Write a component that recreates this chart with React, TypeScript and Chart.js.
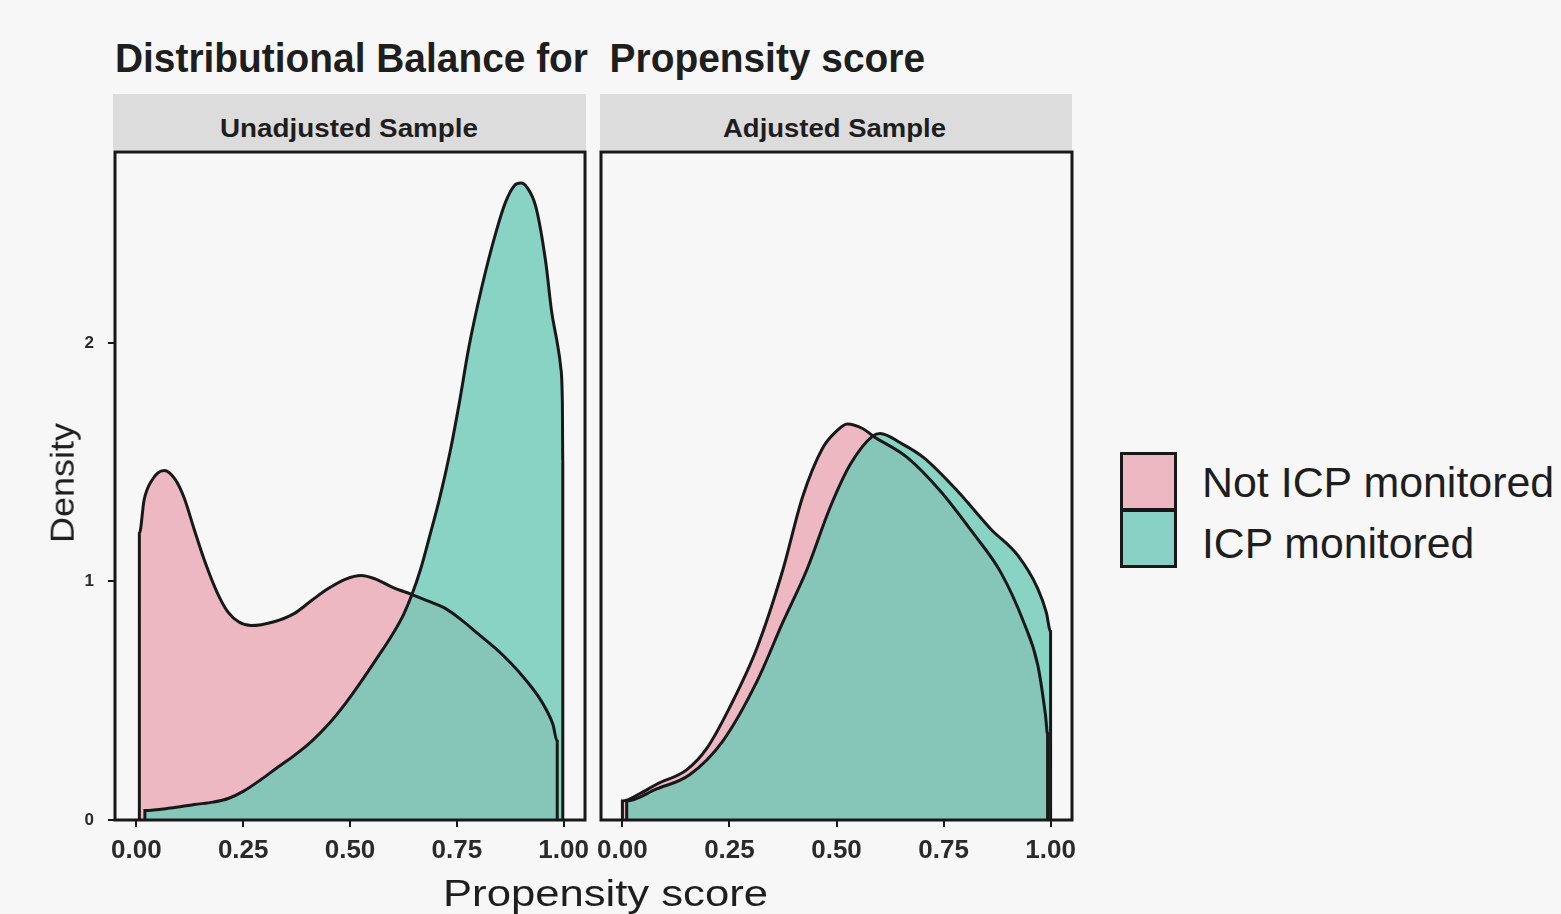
import React, { useEffect, useRef } from "react";
import { Chart, registerables } from "chart.js";

Chart.register(...registerables);

// ---------- data ----------
const panelNames = ["Unadjusted Sample", "Adjusted Sample"];
const groupNames = ["Not ICP monitored", "ICP monitored"];
const xTicks = [0, 0.25, 0.5, 0.75, 1];
const yTicks = [0, 1, 2];

// [propensity score, density]
const unadjustedNotIcp = [
  [0.007, 0], [0.007, 1.2], [0.018, 1.34], [0.035, 1.42], [0.065, 1.465], [0.09, 1.43],
  [0.112, 1.35], [0.135, 1.22], [0.159, 1.09], [0.19, 0.95], [0.215, 0.87], [0.24, 0.83],
  [0.269, 0.815], [0.32, 0.83], [0.369, 0.865], [0.41, 0.92], [0.449, 0.97], [0.49, 1.01],
  [0.526, 1.025], [0.56, 1.01], [0.6, 0.975], [0.645, 0.945], [0.68, 0.92], [0.72, 0.89],
  [0.76, 0.84], [0.8, 0.78], [0.84, 0.72], [0.875, 0.66], [0.91, 0.59], [0.94, 0.52],
  [0.96, 0.46], [0.975, 0.4], [0.985, 0.33], [0.985, 0],
];
const unadjustedIcp = [
  [0.02, 0], [0.02, 0.04], [0.08, 0.05], [0.136, 0.065], [0.18, 0.075], [0.215, 0.09],
  [0.25, 0.12], [0.292, 0.17], [0.33, 0.22], [0.369, 0.27], [0.41, 0.33], [0.449, 0.4],
  [0.49, 0.49], [0.526, 0.58], [0.56, 0.67], [0.6, 0.78], [0.625, 0.86], [0.645, 0.945],
  [0.665, 1.05], [0.685, 1.18], [0.71, 1.35], [0.735, 1.55], [0.755, 1.74], [0.778, 1.98],
  [0.808, 2.23], [0.841, 2.46], [0.864, 2.59], [0.885, 2.66], [0.9, 2.67], [0.915, 2.65],
  [0.935, 2.57], [0.958, 2.34], [0.972, 2.13], [0.985, 2.0], [0.993, 1.9], [0.997, 1.75],
  [0.998, 1.5], [0.998, 0],
];
const adjustedNotIcp = [
  [0.0, 0], [0.0, 0.08], [0.04, 0.11], [0.08, 0.15], [0.15, 0.21], [0.197, 0.3], [0.25, 0.47],
  [0.314, 0.72], [0.375, 1.05], [0.42, 1.35], [0.468, 1.56], [0.5, 1.63], [0.525, 1.66],
  [0.562, 1.64], [0.585, 1.61], [0.665, 1.52], [0.742, 1.38], [0.82, 1.2], [0.883, 1.04],
  [0.937, 0.83], [0.97, 0.65], [0.988, 0.44], [0.993, 0.36], [0.993, 0],
];
const adjustedIcp = [
  [0.01, 0], [0.01, 0.08], [0.08, 0.13], [0.157, 0.19], [0.234, 0.33], [0.314, 0.58],
  [0.375, 0.83], [0.431, 1.05], [0.485, 1.31], [0.532, 1.49], [0.585, 1.61], [0.602, 1.62],
  [0.65, 1.58], [0.703, 1.52], [0.782, 1.38], [0.86, 1.22], [0.923, 1.11], [0.97, 0.97],
  [0.99, 0.87], [1.0, 0.79], [1.0, 0],
];

// ---------- style ----------
const FONT = '"Liberation Sans", Arial, Helvetica, sans-serif';
const BG = "#f7f7f7";
const PINK = "#EDB8C2";
const TEAL = "rgba(107,201,183,0.8)";
const TEAL_KEY = "#87D0C3";
const LINE = "#181818";
const TEXT = "#1e1e1e";

Chart.defaults.font.family = FONT;

const toPts = (a: number[][]) => a.map(([x, y]) => ({ x, y }));

const boxPlugin = {
  id: "panelBox",
  afterDatasetsDraw(chart: any) {
    const { ctx, chartArea } = chart;
    const { left, top, right, bottom } = chartArea;
    ctx.save();
    ctx.strokeStyle = LINE;
    ctx.lineWidth = 3;
    ctx.strokeRect(left, top, right - left, bottom - top);
    ctx.restore();
  },
};

function zeroPad(s: any) {
  s.paddingTop = 0;
  s.paddingBottom = 0;
  s.paddingLeft = 0;
  s.paddingRight = 0;
}

function DensityPanel(props: {
  left: number; top: number; width: number; height: number;
  pad: { top: number; right: number; bottom: number; left: number };
  showY: boolean; pink: number[][]; teal: number[][];
}) {
  const ref = useRef<HTMLCanvasElement>(null);
  useEffect(() => {
    const tickGrid = { drawOnChartArea: false, drawTicks: true, tickLength: 7, color: LINE, lineWidth: 2 };
    const chart = new Chart(ref.current as HTMLCanvasElement, {
      type: "line",
      data: {
        datasets: [
          {
            label: groupNames[0], data: toPts(props.pink), backgroundColor: PINK, borderColor: LINE,
            borderWidth: 3, fill: "origin", pointRadius: 0, cubicInterpolationMode: "monotone", order: 2,
          },
          {
            label: groupNames[1], data: toPts(props.teal), backgroundColor: TEAL, borderColor: LINE,
            borderWidth: 3, fill: "origin", pointRadius: 0, cubicInterpolationMode: "monotone", order: 1,
          },
        ],
      } as any,
      options: {
        animation: false,
        responsive: false,
        events: [],
        layout: { padding: props.pad },
        plugins: {
          legend: { display: false },
          tooltip: { enabled: false },
          filler: { drawTime: "beforeDatasetsDraw" },
        },
        scales: {
          x: {
            type: "linear", min: -0.05, max: 1.05,
            afterBuildTicks: (s: any) => { s.ticks = xTicks.map((v) => ({ value: v })); },
            afterFit: (s: any) => { s.height = 60; zeroPad(s); },
            ticks: {
              callback: (v: any) => Number(v).toFixed(2), autoSkip: false, maxRotation: 0,
              font: { size: 26, family: FONT, weight: "bold" }, color: "#2a2a2a", padding: 8,
            },
            grid: tickGrid, border: { display: false },
          },
          y: {
            display: props.showY, min: 0, max: 2.8,
            afterBuildTicks: (s: any) => { s.ticks = yTicks.map((v) => ({ value: v })); },
            afterFit: (s: any) => { s.width = props.showY ? 85 : 0; zeroPad(s); },
            ticks: { font: { size: 17, family: FONT, weight: "bold" }, color: "#2a2a2a", padding: 14 },
            grid: tickGrid, border: { display: false },
          },
        },
      } as any,
      plugins: [boxPlugin],
    });
    return () => chart.destroy();
  }, []);
  return (
    <canvas
      ref={ref}
      width={props.width}
      height={props.height}
      style={{ position: "absolute", left: props.left, top: props.top, width: props.width, height: props.height, display: "block" }}
    />
  );
}

let measureCtx: CanvasRenderingContext2D | null = null;
function measure(text: string, font: string) {
  if (!measureCtx) measureCtx = document.createElement("canvas").getContext("2d");
  measureCtx!.font = font;
  return measureCtx!.measureText(text).width;
}

function FitText(props: {
  text: string; x: number; baseline: number; size: number; weight?: string;
  width: number; align?: "left" | "center";
}) {
  const weight = props.weight || "normal";
  const w = measure(props.text, `${weight} ${props.size}px ${FONT}`);
  const k = props.width / w;
  const left = props.align === "center" ? props.x - props.width / 2 : props.x;
  return (
    <div
      style={{
        position: "absolute", left, top: props.baseline - 0.8465 * props.size,
        fontFamily: FONT, fontSize: props.size, fontWeight: weight as any, lineHeight: `${props.size}px`,
        whiteSpace: "pre", color: TEXT, transform: `scaleX(${k})`, transformOrigin: "0 0",
      }}
    >
      {props.text}
    </div>
  );
}

function RotatedText(props: { text: string; cx: number; cy: number; size: number; length: number }) {
  const w = measure(props.text, `normal ${props.size}px ${FONT}`);
  const k = props.length / w;
  return (
    <div
      style={{
        position: "absolute", left: props.cx - w / 2, top: props.cy - props.size / 2, width: w,
        fontFamily: FONT, fontSize: props.size, lineHeight: `${props.size}px`, whiteSpace: "pre",
        color: TEXT, transform: `rotate(-90deg) scaleX(${k})`, transformOrigin: "50% 50%",
      }}
    >
      {props.text}
    </div>
  );
}

export default function App() {
  return (
    <div style={{ position: "absolute", left: 0, top: 0, width: 1561, height: 914, background: BG, overflow: "hidden" }}>
      <FitText text={"Distributional Balance for  Propensity score"} x={115} baseline={72} size={40} weight="bold" width={810} />

      <div style={{ position: "absolute", left: 113, top: 94, width: 473, height: 56, background: "#dcdcdc" }} />
      <div style={{ position: "absolute", left: 600, top: 94, width: 472, height: 56, background: "#dcdcdc" }} />
      <FitText text={panelNames[0]} x={349} baseline={137} size={25} weight="bold" width={258} align="center" />
      <FitText text={panelNames[1]} x={834} baseline={137} size={25} weight="bold" width={223} align="center" />

      <DensityPanel
        left={30} top={140} width={600} height={740}
        pad={{ top: 12, right: 45, bottom: 0, left: 0 }}
        showY={true} pink={unadjustedNotIcp} teal={unadjustedIcp}
      />
      <DensityPanel
        left={560} top={140} width={560} height={740}
        pad={{ top: 12, right: 48, bottom: 0, left: 41 }}
        showY={false} pink={adjustedNotIcp} teal={adjustedIcp}
      />

      <RotatedText text="Density" cx={62} cy={483} size={34} length={120} />
      <FitText text="Propensity score" x={605} baseline={906} size={37} width={325} align="center" />

      {/* legend */}
      <div style={{ position: "absolute", left: 1120, top: 452, width: 51, height: 110, border: `3px solid ${LINE}`, background: LINE }}>
        <div style={{ position: "absolute", left: 0, top: 0, width: 51, height: 53, background: PINK }} />
        <div style={{ position: "absolute", left: 0, top: 57, width: 51, height: 53, background: TEAL_KEY }} />
      </div>
      <FitText text={groupNames[0]} x={1202} baseline={497} size={43} width={353} />
      <FitText text={groupNames[1]} x={1202} baseline={558} size={43} width={273} />
    </div>
  );
}
